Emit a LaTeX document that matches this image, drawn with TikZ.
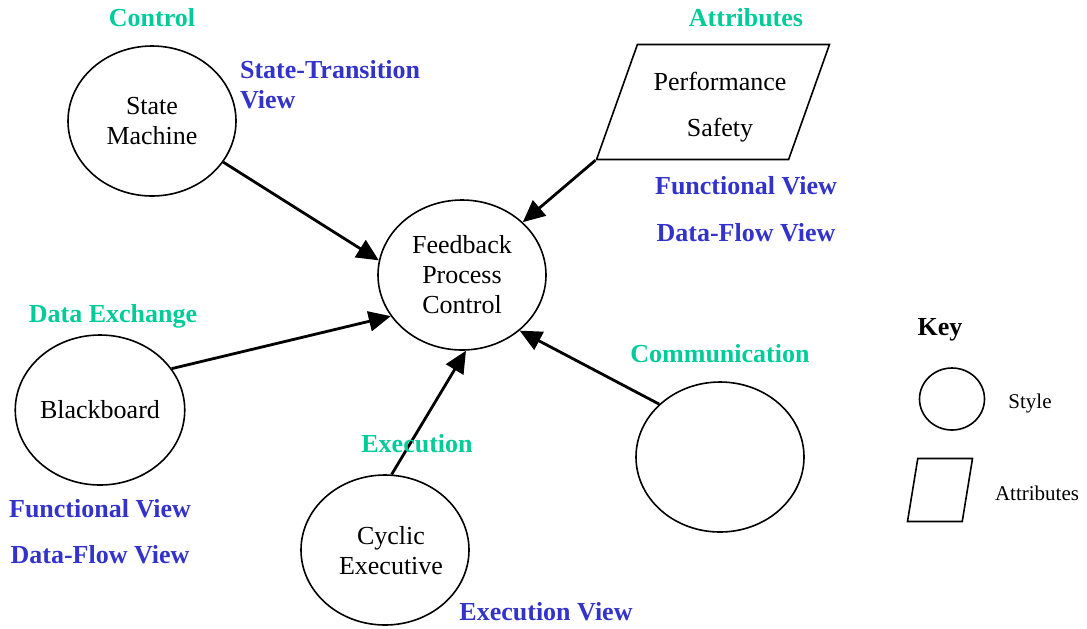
\documentclass[tikz,border=0pt]{standalone}
\usepackage{fontspec}
\setmainfont{Liberation Serif}
\usetikzlibrary{shapes.geometric,arrows.meta}
\definecolor{stylegreen}{RGB}{0,204,153}
\definecolor{viewblue}{RGB}{51,51,204}
\tikzstyle{stylenode} = [
    ellipse,
    draw,
    line width = 0.8pt,
    align = center,
    inner sep = 0pt,
    font = \fontsize{13}{15}\selectfont,
    minimum width = 84pt,
    minimum height = 75pt
]
\tikzstyle{attrnode} = [
    trapezium,
    draw,
    line width = 0.8pt,
    align = center,
    inner sep = 1pt,
    font = \fontsize{13}{15}\selectfont,
    trapezium left angle = 63,
    trapezium right angle = 117,
    trapezium stretches = true,
    minimum width = 116.5pt,
    minimum height = 57.5pt
]
\tikzstyle{stylelabel} = [text = stylegreen, font = \fontsize{13}{15}\selectfont\bfseries]
\tikzstyle{viewlabel} = [text = viewblue, font = \fontsize{13}{15}\selectfont\bfseries]
\tikzstyle{keytext} = [font = \fontsize{10.5}{12}\selectfont]
\tikzstyle{flow} = [-{Triangle[length = 11pt, width = 10pt]}, line width = 1.4pt]

\begin{document}
\begin{tikzpicture}[x = 0.5pt, y = -0.5pt]
    \useasboundingbox (0,0) rectangle (1087,628);

    \node[stylenode] (sm) at (152,121) {State\\Machine};
    \node[stylenode] (fb) at (462,275) {Feedback\\Process\\Control};
    \node[stylenode] (bb) at (100,410) {Blackboard};
    \node[stylenode] (ce) at (385,550) {\hspace*{6pt}\raisebox{-1.5pt}[\height][\depth]{\begin{tabular}{@{}c@{}}Cyclic\\Executive\end{tabular}}};
    \node[stylenode] (cm) at (720,457) {};
    \node[attrnode] (attr) at (713,102)
        {\hspace*{7pt}\raisebox{-2.5pt}[\height][\depth]{\begin{tabular}{@{}c@{}}Performance\\[8pt]Safety\end{tabular}}};

    \draw[flow] (sm.-30) -- (fb.170);
    \draw[flow] (bb.30) -- (fb.210);
    \draw[flow] (ce.85) -- (fb.-87);
    \draw[flow] (cm.139) -- (fb.-44);
    \draw[flow] (attr.bottom left corner) -- (fb.41);

    \node[stylelabel] (ctl) at (152,18) {Control};
    \node[viewlabel, align = left, anchor = west] (stv) at (233,85) {State-Transition\\View};
    \node[stylelabel] (att) at (746,18) {Attributes};
    \node[viewlabel] (fv1) at (746,186) {Functional View};
    \node[viewlabel] (df1) at (746,233) {Data-Flow View};
    \node[stylelabel] (dx) at (113,316) {Data Exchange};
    \node[viewlabel] (fv2) at (100,509) {Functional View};
    \node[viewlabel] (df2) at (100,555) {Data-Flow View};
    \node[stylelabel] (ex) at (417,444) {Execution};
    \node[viewlabel] (ev) at (546,612) {Execution View};
    \node[stylelabel] (com) at (720,354) {Communication};

    \node[font = \fontsize{13}{15}\selectfont\bfseries] (key) at (940,330) {Key};
    \node[stylenode, minimum width = 32.5pt, minimum height = 31pt] (keystyle) at (952,399) {};
    \node[keytext] (keystyletext) at (1030,403) {Style};
    \node[attrnode, trapezium left angle = 77, trapezium right angle = 103,
        minimum width = 32.5pt, minimum height = 31.5pt] (keyattr) at (940,490) {};
    \node[keytext] (keyattrtext) at (1037,493) {Attributes};
\end{tikzpicture}
\end{document}
